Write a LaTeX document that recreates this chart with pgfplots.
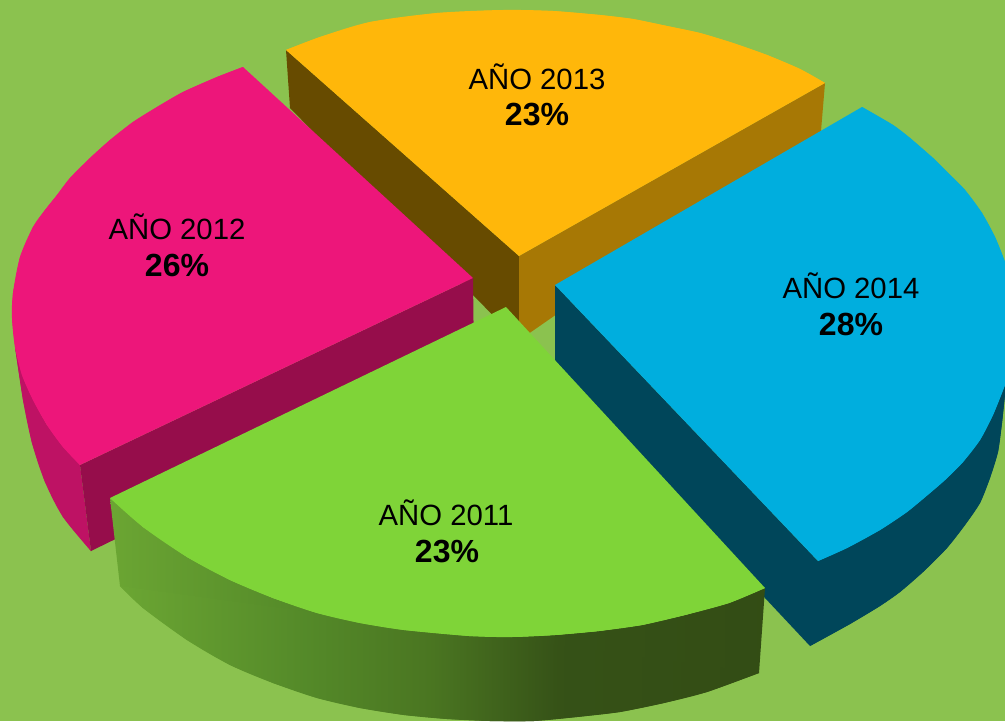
\documentclass[border=0pt]{standalone}
\usepackage{pgfplots}
\pgfplotsset{compat=1.18}
\usepackage{fontspec}
\setmainfont{Liberation Sans}
\definecolor{bgc}{RGB}{139,194,79}
\definecolor{yel}{RGB}{255,183,10}
\definecolor{bro}{RGB}{103,75,0}
\definecolor{ora}{RGB}{167,120,5}
\definecolor{pin}{RGB}{237,22,122}
\definecolor{pind}{RGB}{150,13,75}
\definecolor{pins}{RGB}{190,18,100}
\definecolor{blu}{RGB}{0,174,222}
\definecolor{blud}{RGB}{0,70,90}
\definecolor{gre}{RGB}{127,212,56}
\pgfdeclarehorizontalshading{greenwall}{100bp}{
  rgb(0bp)=(0.42,0.65,0.2);
  rgb(25bp)=(0.42,0.65,0.2);
  rgb(39.5bp)=(0.33,0.54,0.16);
  rgb(49.4bp)=(0.29,0.46,0.13);
  rgb(59.4bp)=(0.21,0.32,0.09);
  rgb(75bp)=(0.2,0.3,0.08);
  rgb(100bp)=(0.2,0.3,0.08)}
\begin{document}
\begin{tikzpicture}
\begin{axis}[
  at={(0,0)}, anchor=south west,
  scale only axis, width=1005pt, height=721pt,
  xmin=0, xmax=1005, ymin=0, ymax=721, y dir=reverse,
  hide axis, no markers, clip=true,
  every axis plot/.append style={draw=none, line width=0pt}]
% background
\addplot[fill=bgc] coordinates {(0,0)(1005,0)(1005,721)(0,721)} -- cycle;
% 2013 walls
\addplot[fill=bro] coordinates {(286,50)(519,256)(519,342)(290,108)} -- cycle;
\addplot[fill=ora] coordinates {(519,256)(825,83)(821,131)(531,332)(519,340)} -- cycle;
% 2013 top
\addplot[fill=yel] coordinates {(286,50)(320,37)(370,22)(437,13)(503,10)(553,11)(600,15)(633,19)(667,26)(700,33)(733,43)(767,55)(800,69)(825,83)(519,256)} -- cycle;
\addplot[fill=yel,smooth] coordinates {(286,50)(320,37)(370,22)(437,13)(503,10)(553,11)(600,15)(633,19)(667,26)(700,33)(733,43)(767,55)(800,69)(825,83)};
% 2012 walls
\addplot[fill=pins] coordinates {(15,347)(23,400)(32,443)(45,482)(63,517)(91,551)(80,465)(47,425)(33,400)(22,375)} -- cycle;
\addplot[fill=pins,smooth] coordinates {(15,347)(23,400)(32,443)(45,482)(63,517)(91,551)};
\addplot[fill=pind] coordinates {(473,278)(80,465)(91,551)(474,364)} -- cycle;
% 2012 top
\addplot[fill=pin] coordinates {(243,67)(217,77)(183,92)(157,107)(133,122)(110,140)(90,158)(70,178)(57,195)(45,210)(33,227)(20,257)(13,293)(12,318)(15,347)(22,375)(33,400)(47,425)(63,447)(80,465)(473,278)} -- cycle;
\addplot[fill=pin,smooth] coordinates {(243,67)(217,77)(183,92)(157,107)(133,122)(110,140)(90,158)(70,178)(57,195)(45,210)(33,227)(20,257)(13,293)(12,318)(15,347)(22,375)(33,400)(47,425)(63,447)(80,465)};
% 2014 walls
\addplot[fill=blud] coordinates {(555,285)(555,376)(765,598)(810,646)(850,624)(880,606)(900,592)(923,572)(947,548)(965,525)(980,503)(990,478)(998,452)(1002,423)(1006,385)(1010,340)(880,400)(818,561)} -- cycle;
\addplot[fill=blud,smooth] coordinates {(810,646)(850,624)(880,606)(900,592)(923,572)(947,548)(965,525)(980,503)(990,478)(998,452)(1002,423)(1006,385)};
% 2014 top
\addplot[fill=blu] coordinates {(555,285)(862,107)(893,125)(910,138)(933,158)(945,170)(965,190)(982,213)(995,237)(1005,262)(1015,295)(1019,325)(1015,355)(1005,385)(993,415)(980,440)(963,462)(945,480)(930,493)(907,512)(880,530)(847,548)(818,561)} -- cycle;
\addplot[fill=blu,smooth] coordinates {(862,107)(893,125)(910,138)(933,158)(945,170)(965,190)(982,213)(995,237)(1005,262)(1015,295)(1019,325)(1015,355)(1005,385)(993,415)(980,440)(963,462)(945,480)(930,493)(907,512)(880,530)(847,548)(818,561)};
% 2011 wall
\addplot[shading=greenwall] coordinates {(110,498)(143,527)(187,557)(230,580)(273,598)(317,613)(360,623)(404,630)(469,636)(512,637)(555,635)(599,631)(642,625)(685,615)(729,603)(765,588)(759,673)(707,692)(664,703)(620,712)(577,717)(534,721)(490,721)(447,719)(404,715)(360,708)(317,698)(273,683)(230,665)(187,640)(143,608)(120,586)} -- cycle;
\addplot[shading=greenwall,smooth] coordinates {(759,673)(707,692)(664,703)(620,712)(577,717)(534,721)(490,721)(447,719)(404,715)(360,708)(317,698)(273,683)(230,665)(187,640)(143,608)(120,586)};
% 2011 top
\addplot[fill=gre] coordinates {(506,307)(765,588)(729,603)(685,615)(642,625)(599,631)(555,635)(512,637)(469,636)(404,630)(360,623)(317,613)(273,598)(230,580)(187,557)(143,527)(110,498)} -- cycle;
\addplot[fill=gre,smooth] coordinates {(765,588)(729,603)(685,615)(642,625)(599,631)(555,635)(512,637)(469,636)(404,630)(360,623)(317,613)(273,598)(230,580)(187,557)(143,527)(110,498)};
% labels
\node[font=\fontsize{29.3}{32}\selectfont,inner sep=0pt] at (axis cs:537,77) {AÑO 2013};
\node[font=\fontsize{32}{34}\selectfont\bfseries,inner sep=0pt] at (axis cs:537,115) {23\%};
\node[font=\fontsize{29.3}{32}\selectfont,inner sep=0pt] at (axis cs:177,227) {AÑO 2012};
\node[font=\fontsize{32}{34}\selectfont\bfseries,inner sep=0pt] at (axis cs:177,265) {26\%};
\node[font=\fontsize{29.3}{32}\selectfont,inner sep=0pt] at (axis cs:851,286) {AÑO 2014};
\node[font=\fontsize{32}{34}\selectfont\bfseries,inner sep=0pt] at (axis cs:851,324) {28\%};
\node[font=\fontsize{29.3}{32}\selectfont,inner sep=0pt] at (axis cs:446,513) {AÑO 2011};
\node[font=\fontsize{32}{34}\selectfont\bfseries,inner sep=0pt] at (axis cs:447,551) {23\%};
\end{axis}
\end{tikzpicture}
\end{document}
